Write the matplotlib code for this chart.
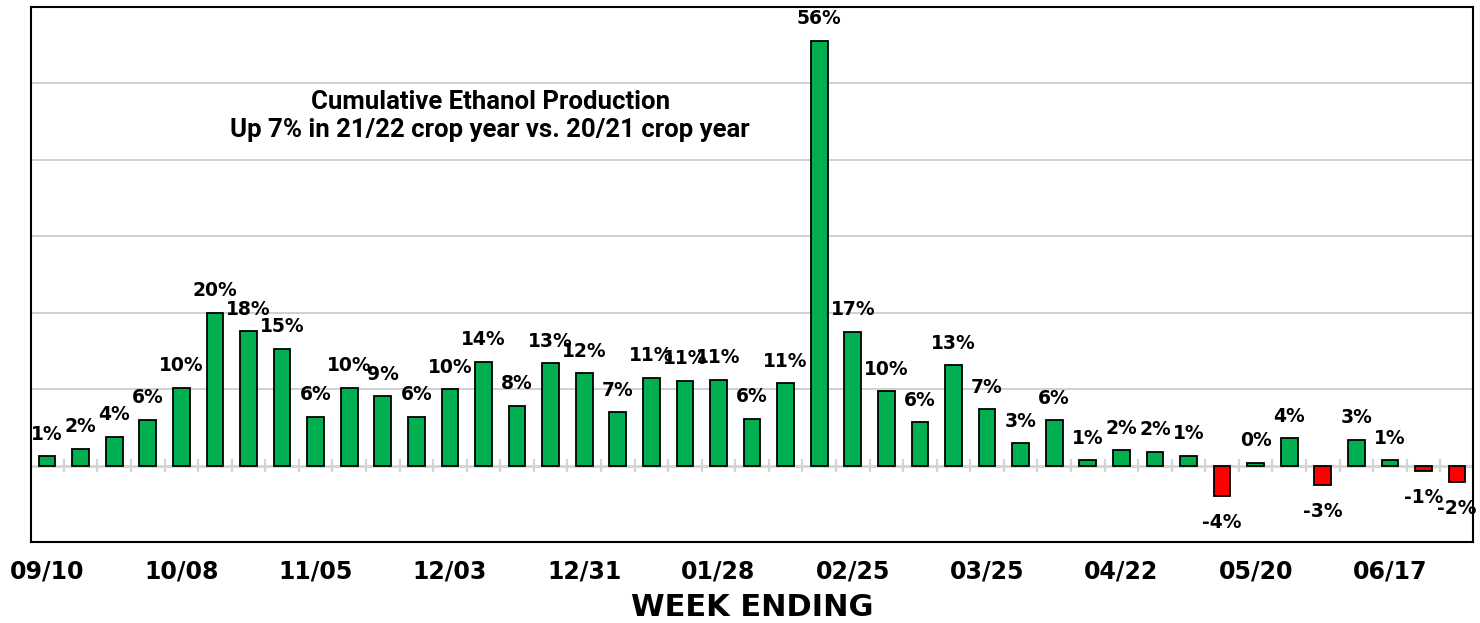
import matplotlib
matplotlib.use("Agg")
import matplotlib.pyplot as plt
import numpy as np

weeks = ["09/10", "09/17", "09/24", "10/01", "10/08", "10/15", "10/22", "10/29",
         "11/05", "11/12", "11/19", "11/26", "12/03", "12/10", "12/17", "12/24",
         "12/31", "01/07", "01/14", "01/21", "01/28", "02/04", "02/11", "02/18",
         "02/25", "03/04", "03/11", "03/18", "03/25", "04/01", "04/08", "04/15",
         "04/22", "04/29", "05/06", "05/13", "05/20", "05/27", "06/03", "06/10",
         "06/17", "06/24", "07/01"]
values = [1.2, 2.2, 3.8, 6.0, 10.2, 20.0, 17.6, 15.3, 6.4, 10.2, 9.1, 6.4,
          10.0, 13.6, 7.8, 13.4, 12.1, 7.0, 11.5, 11.1, 11.2, 6.1, 10.8, 55.6,
          17.5, 9.7, 5.7, 13.1, 7.4, 2.9, 5.9, 0.7, 2.0, 1.8, 1.3, -4.0, 0.4,
          3.6, -2.6, 3.4, 0.7, -0.7, -2.2]
labels = ["1%", "2%", "4%", "6%", "10%", "20%", "18%", "15%", "6%", "10%", "9%",
          "6%", "10%", "14%", "8%", "13%", "12%", "7%", "11%", "11%", "11%", "6%",
          "11%", "56%", "17%", "10%", "6%", "13%", "7%", "3%", "6%", "1%", "2%",
          "2%", "1%", "-4%", "0%", "4%", "-3%", "3%", "1%", "-1%", "-2%"]
annotation = "Cumulative Ethanol Production\nUp 7% in 21/22 crop year vs. 20/21 crop year"
xlabel = "WEEK ENDING"

fig = plt.figure(figsize=(14.8, 6.23), dpi=100)
ax = fig.add_axes([0.0209, 0.130, 0.9745, 0.8588])

x = np.arange(len(values))
colors = ["#00b050" if v >= 0 else "#ff0000" for v in values]
ax.bar(x, values, width=0.5, color=colors, edgecolor="black", linewidth=1.3, zorder=3)

ax.set_xlim(-0.48, len(values) - 0.52)
ax.set_ylim(-10, 60)

# gridlines
for g in np.arange(10, 60, 10):
    ax.axhline(g, color="#d0d0d0", linewidth=1.4, zorder=1)
ax.axhline(0, color="#d4d4d4", linewidth=2.0, zorder=2)
# small separator ticks on zero line
ax.vlines(np.arange(-0.5, len(values), 1.0), -0.8, 0.8, color="#d4d4d4", linewidth=1.6, zorder=2)

lab_kw = dict(ha="center", fontsize=13.5, fontweight="heavy", family="DejaVu Sans", zorder=4)
for xi, v, lab in zip(x, values, labels):
    if v >= 0:
        ax.annotate(lab, (xi, v), xytext=(0, 9), textcoords="offset points",
                    va="bottom", **lab_kw)
    else:
        ax.annotate(lab, (xi, v), xytext=(0, -12), textcoords="offset points",
                    va="top", **lab_kw)

ax.text(13.2, 45.7, annotation, ha="center", va="center", fontsize=18.5,
        fontweight="bold", family="Roboto", linespacing=1.22)

tick_idx = x[::4]
ax.set_xticks(tick_idx)
ax.set_xticklabels([weeks[i] for i in tick_idx], fontsize=17, fontweight="heavy",
                   family="DejaVu Sans")
ax.tick_params(axis="x", length=0, pad=12.5)
ax.set_yticks([])
ax.set_xlabel(xlabel, fontsize=22, fontweight="heavy", family="DejaVu Sans", labelpad=7)

for s in ax.spines.values():
    s.set_color("black")
    s.set_linewidth(1.5)

fig.savefig("out.png", dpi=100)
